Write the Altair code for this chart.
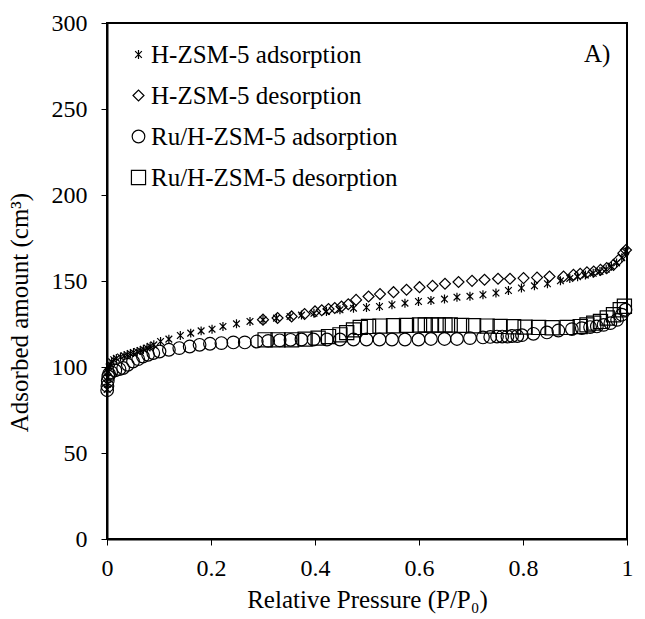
import altair as alt
import pandas as pd

# ---------------- data ----------------
series_names = ["H-ZSM-5 adsorption", "H-ZSM-5 desorption",
                "Ru/H-ZSM-5 adsorption", "Ru/H-ZSM-5 desorption"]

h_ads_p = [0.0003, 0.0008, 0.0015, 0.0025, 0.004, 0.006, 0.009, 0.013, 0.018, 0.026,
           0.033, 0.039, 0.045, 0.051, 0.058, 0.064, 0.070, 0.077, 0.083, 0.090,
           0.103, 0.119, 0.141, 0.161, 0.181, 0.202, 0.223, 0.249, 0.275, 0.300,
           0.326, 0.352, 0.374, 0.398, 0.422, 0.448, 0.474, 0.499, 0.524, 0.548,
           0.573, 0.599, 0.623, 0.649, 0.673, 0.698, 0.723, 0.748, 0.772, 0.797,
           0.822, 0.847, 0.872, 0.890, 0.905, 0.920, 0.935, 0.948, 0.960, 0.970,
           0.980, 0.990, 0.997]
h_ads_v = [87.0, 90.0, 94.0, 97.5, 100.0, 101.5, 103.0, 104.2, 105.0, 105.8,
           106.5, 107.1, 107.8, 108.4, 109.0, 109.6, 110.3, 111.0, 112.0, 112.9,
           114.8, 116.2, 118.3, 119.7, 121.0, 122.0, 123.6, 125.1, 126.5, 127.4,
           128.4, 129.4, 130.2, 131.2, 132.3, 133.3, 134.2, 134.6, 135.2, 136.2,
           137.1, 138.1, 138.7, 139.5, 140.6, 141.1, 142.0, 143.0, 144.5, 145.9,
           147.2, 148.4, 150.1, 151.5, 152.5, 153.5, 154.5, 155.5, 156.8, 158.5,
           160.5, 163.5, 167.0]

h_des_p = [0.300, 0.328, 0.355, 0.380, 0.400, 0.413, 0.426, 0.438, 0.451, 0.464,
           0.479, 0.503, 0.525, 0.551, 0.576, 0.601, 0.626, 0.650, 0.676, 0.702,
           0.726, 0.752, 0.775, 0.801, 0.827, 0.851, 0.878, 0.897, 0.910, 0.923,
           0.936, 0.949, 0.961, 0.974, 0.984, 0.993, 0.998]
h_des_v = [127.5, 128.5, 129.4, 130.8, 132.3, 133.0, 133.7, 134.3, 135.2, 136.5,
           139.0, 141.0, 142.4, 143.5, 144.9, 146.4, 147.2, 148.4, 149.4, 150.1,
           150.7, 151.3, 151.3, 151.7, 152.0, 152.6, 152.6, 153.6, 154.2, 155.0,
           155.5, 156.5, 157.5, 159.4, 162.3, 166.2, 168.0]

ru_ads_p = [0.0003, 0.0008, 0.0015, 0.0025, 0.004, 0.008, 0.016, 0.024, 0.031, 0.040,
            0.050, 0.060, 0.069, 0.079, 0.089, 0.101, 0.119, 0.139, 0.159, 0.178,
            0.198, 0.220, 0.243, 0.265, 0.288, 0.310, 0.332, 0.353, 0.374, 0.397,
            0.423, 0.448, 0.474, 0.499, 0.524, 0.548, 0.573, 0.599, 0.623, 0.649,
            0.673, 0.698, 0.723, 0.737, 0.750, 0.760, 0.770, 0.779, 0.789, 0.798,
            0.820, 0.846, 0.868, 0.894, 0.913, 0.929, 0.942, 0.955, 0.968, 0.981,
            0.990, 0.997]
ru_ads_v = [86.5, 89.0, 92.0, 94.5, 96.0, 97.0, 98.0, 98.8, 99.4, 101.3,
            103.2, 104.6, 106.1, 107.1, 108.1, 109.0, 110.0, 111.0, 111.9, 112.9,
            113.5, 113.9, 114.3, 114.3, 114.8, 115.2, 115.5, 115.8, 116.0, 116.0,
            116.0, 116.0, 116.0, 116.0, 116.0, 116.0, 116.0, 116.0, 116.3, 116.3,
            116.3, 116.8, 117.2, 117.5, 117.7, 117.7, 117.7, 118.0, 118.0, 118.5,
            119.3, 120.1, 121.2, 122.0, 122.6, 123.2, 123.6, 124.5, 125.5, 127.4,
            130.4, 133.3]

ru_des_p = [0.304, 0.329, 0.355, 0.381, 0.406, 0.426, 0.448, 0.461, 0.474, 0.487,
            0.503, 0.525, 0.551, 0.576, 0.601, 0.612, 0.624, 0.637, 0.650, 0.660,
            0.682, 0.705, 0.731, 0.756, 0.782, 0.804, 0.830, 0.856, 0.885, 0.910,
            0.923, 0.936, 0.949, 0.962, 0.974, 0.987, 0.995]
ru_des_v = [115.8, 115.8, 115.8, 116.2, 116.8, 117.7, 118.7, 120.0, 121.6, 123.0,
            123.6, 123.8, 124.0, 124.2, 124.4, 124.4, 124.4, 124.4, 124.4, 124.4,
            124.2, 124.0, 123.8, 123.6, 123.4, 123.2, 123.0, 122.8, 123.0, 123.5,
            124.5, 125.5, 126.5, 128.5, 130.4, 133.3, 135.3]

x_ticks = [0, 0.2, 0.4, 0.6, 0.8, 1.0]
y_ticks = [0, 50, 100, 150, 200, 250, 300]

panel_label = ["A)"]
panel_label_pos = [0.968, 282.0]

# ---------------- build table ----------------
frames = []
for name, ps, vs in zip(series_names,
                        [h_ads_p, h_des_p, ru_ads_p, ru_des_p],
                        [h_ads_v, h_des_v, ru_ads_v, ru_des_v]):
    frames.append(pd.DataFrame({"p": ps, "v": vs, "series": name}))
df = pd.concat(frames, ignore_index=True)

FONT = "Liberation Serif"
FS = 24
FS_TXT = 25
asterisk = "M0,-1L0,1M-0.75,-0.75L0.75,0.75M-0.75,0.75L0.75,-0.75"

x_scale = alt.Scale(domain=[0, 1], nice=False, zero=False)
y_scale = alt.Scale(domain=[0, 300], nice=False)

legend_cfg = dict(title=None, orient="none", legendX=19, legendY=19,
                  labelFont=FONT, labelFontSize=FS_TXT, labelColor="black", labelLimit=0,
                  rowPadding=15, padding=0, labelOffset=0,
                  symbolStrokeColor="black", symbolStrokeWidth=1.2)

points = alt.Chart(df).mark_point(
    filled=False, opacity=1, strokeWidth=1.2, color="black"
).encode(
    x=alt.X("p:Q", scale=x_scale,
            axis=alt.Axis(values=x_ticks, format="~g", grid=False,
                          title="Relative Pressure (P/P₀)",
                          titleFont=FONT, titleFontSize=FS_TXT, titleFontWeight="normal",
                          titleColor="black", titleY=68, titleBaseline="alphabetic",
                          labelFont=FONT, labelFontSize=FS, labelColor="black",
                          labelPadding=11, labelFlush=False,
                          domainColor="black", domainWidth=2,
                          tickColor="black", tickSize=6, tickWidth=1)),
    y=alt.Y("v:Q", scale=y_scale,
            axis=alt.Axis(values=y_ticks, grid=False,
                          title="Adsorbed amount (cm³)",
                          titleFont=FONT, titleFontSize=FS_TXT, titleFontWeight="normal",
                          titleColor="black", titleAngle=270, titleX=-88, titleY=289,
                          titleAlign="center", titleBaseline="middle",
                          labelFont=FONT, labelFontSize=FS, labelColor="black",
                          labelPadding=14, labelFlush=False,
                          domainColor="black", domainWidth=2,
                          tickColor="black", tickSize=6, tickWidth=1)),
    shape=alt.Shape("series:N",
                    scale=alt.Scale(domain=series_names,
                                    range=[asterisk, "diamond", "circle", "square"]),
                    legend=alt.Legend(**legend_cfg)),
    size=alt.Size("series:N",
                  scale=alt.Scale(domain=series_names, range=[80, 200, 140, 165]),
                  legend=alt.Legend(**legend_cfg)),
)

label = alt.Chart(pd.DataFrame({"x": [panel_label_pos[0]], "y": [panel_label_pos[1]],
                                "t": panel_label})).mark_text(
    align="right", baseline="middle", font=FONT, fontSize=FS_TXT, color="black"
).encode(x=alt.X("x:Q", scale=x_scale), y=alt.Y("y:Q", scale=y_scale), text="t:N")

chart = alt.layer(points, label).properties(
    width=520, height=516,
    autosize=alt.AutoSizeParams(type="none"),
    padding={"left": 107, "top": 23, "right": 18, "bottom": 80},
    background="white",
).configure_view(stroke="black", strokeWidth=2)

chart.save("out.html", embed_options={"renderer": "svg", "actions": False})
